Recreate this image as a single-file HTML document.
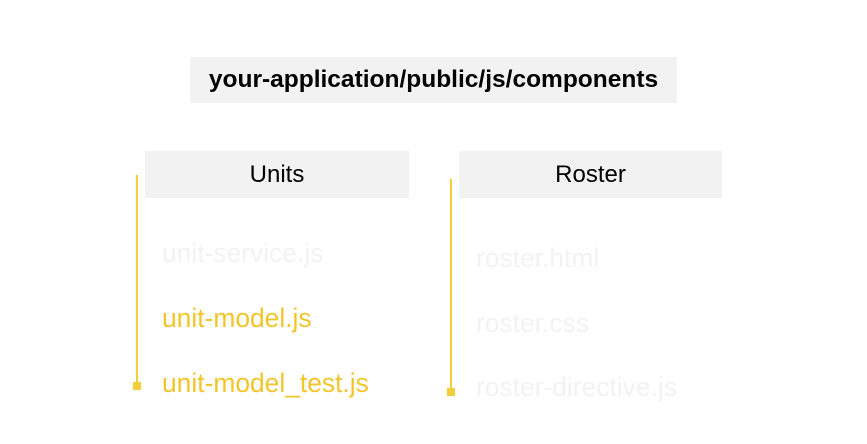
<!DOCTYPE html>
<html><head><style>
body{margin:0;width:867px;height:444px;background:#fff;position:relative;overflow:hidden;font-family:"Liberation Sans",sans-serif}
.b{position:absolute;background:#f2f2f2;display:flex;align-items:center;justify-content:center;color:#000}
.t{position:absolute;font-size:26.4px;line-height:30px;white-space:nowrap}
.f{color:#f2f2f2}.y{color:#f2c52a}
.l{position:absolute;width:2px;background:#f4cd3a}
.s{position:absolute;width:8px;height:8px;background:#f4cd3a}
</style></head><body>
<div class="b" style="left:190px;top:57px;width:487px;height:46px;font-weight:bold;font-size:24.5px">your-application/public/js/components</div>
<div class="b" style="left:145px;top:151px;width:264px;height:47px;font-size:24px">Units</div>
<div class="b" style="left:459px;top:151px;width:263px;height:47px;font-size:24px">Roster</div>
<div class="l" style="left:136px;top:175px;height:212px"></div>
<div class="s" style="left:133px;top:382px"></div>
<div class="l" style="left:450px;top:179px;height:214px"></div>
<div class="s" style="left:447px;top:388px"></div>
<div class="t f" style="left:162px;top:238px">unit-service.js</div>
<div class="t y" style="left:162px;top:303px">unit-model.js</div>
<div class="t y" style="left:162px;top:368px">unit-model_test.js</div>
<div class="t f" style="left:476px;top:243px">roster.html</div>
<div class="t f" style="left:476px;top:308px">roster.css</div>
<div class="t f" style="left:476px;top:372px">roster-directive.js</div>
</body></html>
